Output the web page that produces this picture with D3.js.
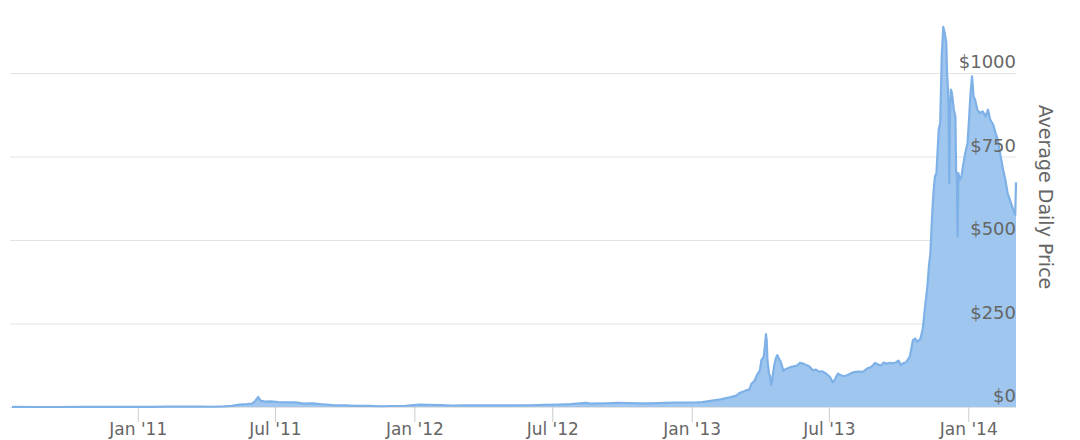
<!DOCTYPE html>
<html>
<head>
<meta charset="utf-8">
<script src="https://cdn.jsdelivr.net/npm/d3@7/dist/d3.min.js"></script>
<style>
  html, body { margin: 0; padding: 0; background: #fff; }
  svg { display: block; }
  text { font-family: "DejaVu Sans", Verdana, sans-serif; }
</style>
</head>
<body>
<svg id="chart" width="1080" height="440"></svg>
<script>
// ---- Data (average daily price, USD) ----
const dates = [
  "2010-07-19","2010-08-20","2010-09-20","2010-10-20","2010-11-08","2010-12-01","2010-12-31",
  "2011-01-20","2011-02-10","2011-03-01","2011-03-25","2011-04-10","2011-04-25","2011-05-05",
  "2011-05-15","2011-05-25","2011-06-01","2011-06-05","2011-06-09","2011-06-12","2011-06-18",
  "2011-06-25","2011-07-05","2011-07-15","2011-07-28","2011-08-08","2011-08-20","2011-09-01",
  "2011-09-15","2011-10-01","2011-10-15","2011-11-01","2011-11-18","2011-12-01","2011-12-20",
  "2012-01-08","2012-01-20","2012-02-05","2012-02-20","2012-03-10","2012-04-01","2012-04-20",
  "2012-05-10","2012-06-01","2012-06-20","2012-07-10","2012-07-25","2012-08-15","2012-08-20",
  "2012-09-10","2012-09-25","2012-10-10","2012-10-25","2012-11-10","2012-11-25","2012-12-10",
  "2012-12-25",
  "2013-01-05","2013-01-15","2013-01-28","2013-02-08","2013-02-20","2013-03-01","2013-03-05",
  "2013-03-10","2013-03-14","2013-03-18","2013-03-21","2013-03-25","2013-03-28","2013-04-01",
  "2013-04-03","2013-04-06","2013-04-08","2013-04-09","2013-04-10","2013-04-11","2013-04-13",
  "2013-04-14","2013-04-16","2013-04-18","2013-04-20","2013-04-22","2013-04-24","2013-04-26",
  "2013-04-28","2013-04-30","2013-05-02","2013-05-04","2013-05-08","2013-05-12","2013-05-16",
  "2013-05-20","2013-05-24","2013-05-28","2013-06-01","2013-06-05","2013-06-10","2013-06-14",
  "2013-06-18","2013-06-22","2013-06-26","2013-06-30","2013-07-03","2013-07-06","2013-07-09",
  "2013-07-13","2013-07-17","2013-07-21","2013-07-26","2013-07-31","2013-08-05","2013-08-10",
  "2013-08-15","2013-08-21","2013-08-26","2013-08-31","2013-09-04","2013-09-08","2013-09-11",
  "2013-09-16","2013-09-20","2013-09-24","2013-09-28","2013-10-01","2013-10-04","2013-10-07",
  "2013-10-11","2013-10-16","2013-10-20","2013-10-23","2013-10-26","2013-10-30","2013-11-02",
  "2013-11-05","2013-11-08","2013-11-10","2013-11-12","2013-11-14","2013-11-16","2013-11-18",
  "2013-11-20","2013-11-23","2013-11-25","2013-11-27","2013-11-29","2013-12-01","2013-12-03",
  "2013-12-04","2013-12-05","2013-12-06","2013-12-07","2013-12-08","2013-12-09","2013-12-10",
  "2013-12-11","2013-12-13","2013-12-15","2013-12-16","2013-12-17","2013-12-18","2013-12-19",
  "2013-12-21","2013-12-23","2013-12-25","2013-12-28","2013-12-31",
  "2014-01-02","2014-01-04","2014-01-06","2014-01-08","2014-01-10","2014-01-13","2014-01-16",
  "2014-01-20","2014-01-24","2014-01-27","2014-01-30","2014-02-03","2014-02-06","2014-02-09",
  "2014-02-12","2014-02-16","2014-02-19","2014-02-22","2014-02-25","2014-02-28","2014-03-03",
  "2014-03-04","2014-03-05"
];
const prices = [
  0.08,0.07,0.06,0.10,0.30,0.22,0.30,
  0.42,1.05,0.90,0.85,0.80,1.60,3.4,
  7.0,8.4,10,18,30,19,16,
  17,15,14,13.6,10,11,8.2,
  5.5,5.0,3.6,3.2,2.2,3.0,3.8,
  6.9,6.3,5.8,4.5,4.9,4.9,5.1,
  5.0,5.3,6.4,7.5,8.9,12.5,10.2,
  11.2,12.3,12.0,10.6,10.9,12.4,13.5,
  13.4,
  13.5,14.5,19,23,29,34,42,
  46,50,52,70,78,95,110,
  140,150,190,218,200,140,100,
  95,66,95,125,145,155,145,
  138,125,108,112,116,120,122,
  124,132,130,126,122,110,112,
  106,107,102,95,88,74,82,
  100,95,92,96,102,105,106,
  105,116,120,132,127,124,133,
  130,132,131,134,139,126,131,
  134,152,200,205,195,205,235,
  300,360,420,460,560,640,690,
  700,830,850,1050,1138,1120,1090,
  1000,960,900,670,880,950,945,
  930,890,870,705,690,510,700,
  680,690,720,760,790,
  860,940,990,930,920,890,880,
  885,870,890,860,845,820,800,
  760,710,680,640,620,600,580,
  575,673
];
const xTickDates = ["2011-01-01","2011-07-01","2012-01-01","2012-07-01","2013-01-01","2013-07-01","2014-01-01"];
const xTickLabels = ["Jan '11","Jul '11","Jan '12","Jul '12","Jan '13","Jul '13","Jan '14"];
const yTickValues = [0, 250, 500, 750, 1000];
const yTickLabels = ["$0","$250","$500","$750","$1000"];
const yTitle = "Average Daily Price";

// ---- Drawing ----
(function () {
const parse = d3.timeParse("%Y-%m-%d");
const data = dates.map((d, i) => ({ date: parse(d), value: prices[i] }));

const svg = d3.select("#chart");
const plotLeft = 12, plotRight = 1016, gridLeft = 10, plotTop = 73, plotBottom = 407;

const x = d3.scaleTime().domain(d3.extent(data, d => d.date)).range([plotLeft, plotRight]);
const y = d3.scaleLinear().domain([0, 1000]).range([plotBottom, plotTop]);

// gridlines
const yAxis = d3.axisLeft(y)
  .tickValues(yTickValues)
  .tickSize(plotRight - gridLeft)
  .tickFormat((d, i) => yTickLabels[i]);
const gy = svg.append("g").attr("transform", `translate(${plotRight},0)`).call(yAxis);
gy.select(".domain").remove();
gy.selectAll(".tick line").attr("stroke", "#e3e3e3").attr("stroke-width", 1);
gy.selectAll(".tick text").remove();

// x axis ticks
const xAxis = d3.axisBottom(x)
  .tickValues(xTickDates.map(parse))
  .tickSize(15)
  .tickPadding(0)
  .tickFormat((d, i) => xTickLabels[i]);
const gx = svg.append("g").attr("transform", `translate(0,${plotBottom})`).call(xAxis);
gx.select(".domain").remove();
gx.selectAll(".tick line").attr("stroke", "#cccccc");
gx.selectAll(".tick text")
  .attr("y", 28)
  .attr("dy", 0)
  .attr("fill", "#666")
  .style("font-size", "17px")
  .style("font-family", "'DejaVu Sans', Verdana, sans-serif");

// area
const area = d3.area().x(d => x(d.date)).y0(y(0)).y1(d => y(d.value)).curve(d3.curveLinear);
const line = d3.line().x(d => x(d.date)).y(d => y(d.value)).curve(d3.curveLinear);
svg.append("path").datum(data).attr("d", area).attr("fill", "#9ec6ef");
svg.append("path").datum(data).attr("d", line)
  .attr("fill", "none").attr("stroke", "#7eb1e7").attr("stroke-width", 2.2)
  .attr("stroke-linejoin", "round");

// y labels on top, right-aligned inside plot, above gridlines
const gLabels = svg.append("g");
gLabels.selectAll("text").data(yTickValues).enter().append("text")
  .attr("x", plotRight)
  .attr("y", d => y(d) - 5)
  .attr("text-anchor", "end")
  .attr("fill", "#666")
  .style("font-size", "18px")
  .text((d, i) => yTickLabels[i]);

// y axis title (rotated, reading top to bottom)
svg.append("text")
  .attr("transform", `translate(1039,${(plotTop + plotBottom) / 2 - 43}) rotate(90)`)
  .attr("text-anchor", "middle")
  .attr("fill", "#666")
  .style("font-size", "19px")
  .text(yTitle);
})();
</script>
</body>
</html>
